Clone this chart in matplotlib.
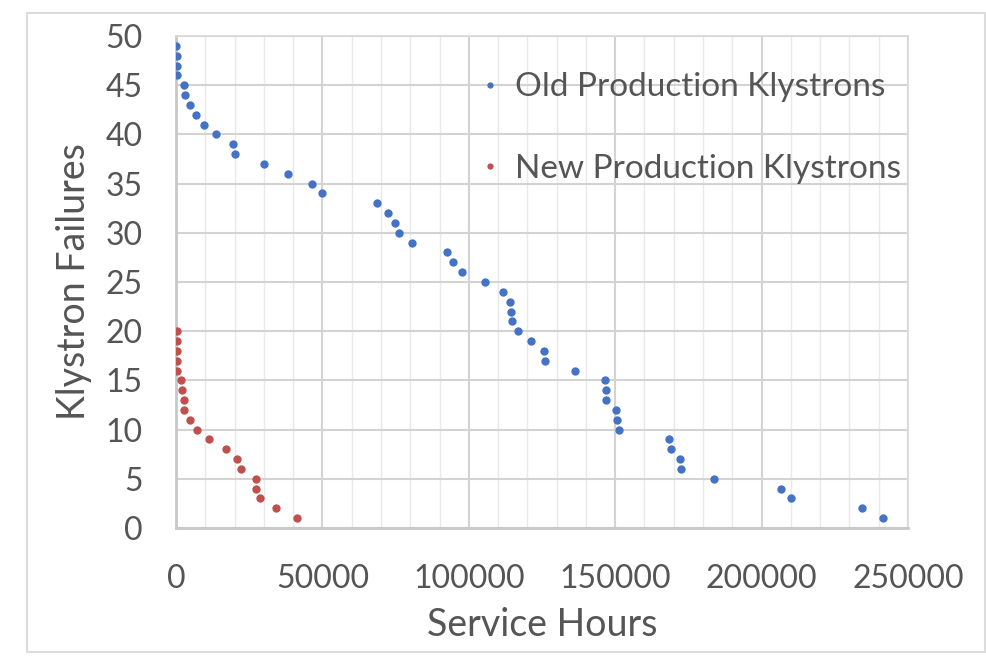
import matplotlib
matplotlib.use("Agg")
import matplotlib.pyplot as plt
from matplotlib.patches import Rectangle
from matplotlib.ticker import MultipleLocator

old_hours = [0, 400, 400, 400, 2700, 3200, 4900, 6700, 9400, 13700, 19500, 20000,
             29900, 38400, 46500, 49900, 68500, 72500, 74900, 76200, 80700, 92500,
             94700, 97700, 105500, 111700, 114100, 114300, 114800, 116900, 121200,
             125800, 126100, 136200, 146400, 146900, 147000, 150300, 150600, 151300,
             168300, 168900, 172100, 172600, 183700, 206500, 210000, 234300, 241300]
old_failures = list(range(49, 0, -1))

new_hours = [200, 200, 200, 200, 200, 1600, 1900, 2600, 2700, 4800, 7200, 11100,
             17000, 20800, 22200, 27300, 27300, 28600, 34100, 41200]
new_failures = list(range(20, 0, -1))

x_ticks = [0, 50000, 100000, 150000, 200000, 250000]
y_ticks = [0, 5, 10, 15, 20, 25, 30, 35, 40, 45, 50]

plt.rcParams['font.family'] = ['Lato', 'DejaVu Sans']
text_color = '#555555'

fig = plt.figure(figsize=(9.87, 6.60), dpi=100)
# chart frame
fig.add_artist(Rectangle((27/987, 8/660), 958/987, 639/660, transform=fig.transFigure,
                         facecolor='white', edgecolor='#dcdcdc', linewidth=1.5, zorder=-9))

ax = fig.add_axes([176/987, 1 - 528/660, 732/987, 492/660])
ax.set_xlim(0, 250000)
ax.set_ylim(0, 50)
ax.set_xticks(x_ticks)
ax.set_yticks(y_ticks)
ax.xaxis.set_minor_locator(MultipleLocator(10000))
ax.grid(which='major', color='#d3d3d3', linewidth=1.5, zorder=0)
ax.grid(which='minor', axis='x', color='#e9e9e9', linewidth=1.0, zorder=0)
ax.tick_params(which='both', length=0, labelsize=23, colors=text_color)
ax.tick_params(axis='x', pad=26)
ax.tick_params(axis='y', pad=24)
for side in ['top', 'right']:
    ax.spines[side].set_color('#d9d9d9')
    ax.spines[side].set_linewidth(1.2)
for side in ['left', 'bottom']:
    ax.spines[side].set_color('#c8c8c8')
    ax.spines[side].set_linewidth(2)
ax.set_axisbelow(True)

ax.plot(old_hours, old_failures, 'o', color='#4472C4', ms=6, mec='none',
        label='Old Production Klystrons', zorder=3)
ax.plot(new_hours, new_failures, 'o', color='#C0504D', ms=6, mec='none',
        label='New Production Klystrons', zorder=3)

ax.set_xlabel('Service Hours', fontsize=27, color=text_color, labelpad=9)
ax.set_ylabel('Klystron Failures', fontsize=27, color=text_color, labelpad=10)

leg = ax.legend(loc='upper right', bbox_to_anchor=(1.0, 0.94), frameon=False,
                fontsize=24, labelspacing=1.55, handlelength=0.5, handletextpad=0.5,
                markerscale=0.75, borderaxespad=0.0, borderpad=0.2)
for t in leg.get_texts():
    t.set_color(text_color)

fig.savefig('out.png', dpi=100)
